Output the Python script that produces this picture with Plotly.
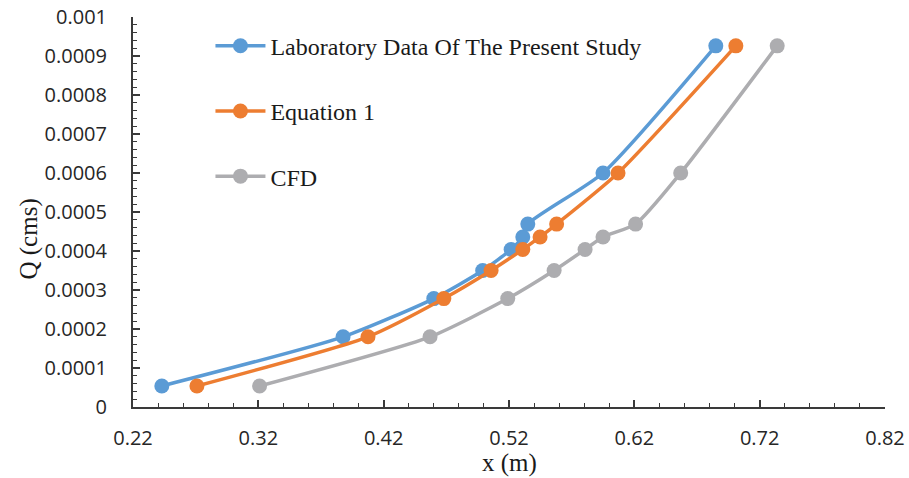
import plotly.graph_objects as go

# Data
q_values = [0.000054, 0.00018, 0.000278, 0.00035, 0.000404, 0.000436, 0.000469, 0.0006, 0.000926]
x_lab = [0.243, 0.3876, 0.460, 0.499, 0.5217, 0.531, 0.535, 0.595, 0.685]
x_eq1 = [0.271, 0.4075, 0.468, 0.5057, 0.531, 0.5448, 0.558, 0.607, 0.701]
x_cfd = [0.321, 0.457, 0.519, 0.556, 0.5807, 0.595, 0.621, 0.657, 0.734]

series_names = ["Laboratory Data Of The Present Study", "Equation 1", "CFD"]
series_x = [x_lab, x_eq1, x_cfd]
colors = ["#5B9BD5", "#ED7D31", "#ADADB0"]

x_ticks = [0.22, 0.32, 0.42, 0.52, 0.62, 0.72, 0.82]
y_ticks = [0, 0.0001, 0.0002, 0.0003, 0.0004, 0.0005, 0.0006, 0.0007, 0.0008, 0.0009, 0.001]

fig = go.Figure()
for i, (name, xs, c) in enumerate(zip(series_names, series_x, colors)):
    fig.add_trace(go.Scatter(
        x=xs, y=q_values, name=name, mode="lines+markers",
        line=dict(color=c, width=3.5, shape="spline", smoothing=0.6),
        marker=dict(color=c, size=15),
        legendgroup=f"g{i}",
    ))

axis_common = dict(
    showgrid=False, zeroline=False, automargin=False,
    showline=True, linecolor="#3a3a3a", linewidth=2,
    ticks="inside", ticklen=7, tickwidth=1.5, tickcolor="#3a3a3a",
    tickfont=dict(family="Open Sans", size=20, color="#262626"),
    mirror=False,
)

fig.update_xaxes(
    **axis_common,
    range=[0.22, 0.82], tickvals=x_ticks, ticktext=[f"{v:.2f}" for v in x_ticks],
    minor=dict(ticks="inside", ticklen=4, dtick=0.02, tick0=0.22, tickcolor="#3a3a3a", tickwidth=1.2),
    ticklabelstandoff=12,
)
fig.update_yaxes(
    **axis_common,
    range=[0, 0.001], tickvals=y_ticks, ticktext=["0" if v == 0 else f"{v:g}" if v >= 0.001 else f"{v:.4f}" for v in y_ticks],
    minor=dict(ticks="inside", ticklen=4, dtick=0.00002, tick0=0, tickcolor="#3a3a3a", tickwidth=1.2),
    ticklabelstandoff=20,
)

title_font = dict(family="Liberation Serif", size=25, color="#1a1a1a")
fig.add_annotation(text="x (m)", xref="paper", yref="paper", x=0.5, y=-0.143,
                   xanchor="center", yanchor="middle", showarrow=False, font=title_font)
fig.add_annotation(text="Q (cms)", xref="paper", yref="paper", x=-0.138, y=0.43,
                   xanchor="center", yanchor="middle", showarrow=False, font=title_font, textangle=-90)

fig.update_layout(
    width=909, height=478,
    margin=dict(l=133, r=24, t=17, b=71),
    plot_bgcolor="white", paper_bgcolor="white",
    showlegend=True,
    legend=dict(
        x=0.103, y=0.983, xanchor="left", yanchor="top",
        font=dict(family="Liberation Serif", size=24, color="#1a1a1a"),
        tracegroupgap=31, bgcolor="rgba(0,0,0,0)", borderwidth=0,
        itemwidth=50,
    ),
)

fig.write_html(
    "out.html",
    config={"displayModeBar": False},
    post_script="document.body.style.margin='0';document.body.style.overflow='hidden';",
)
